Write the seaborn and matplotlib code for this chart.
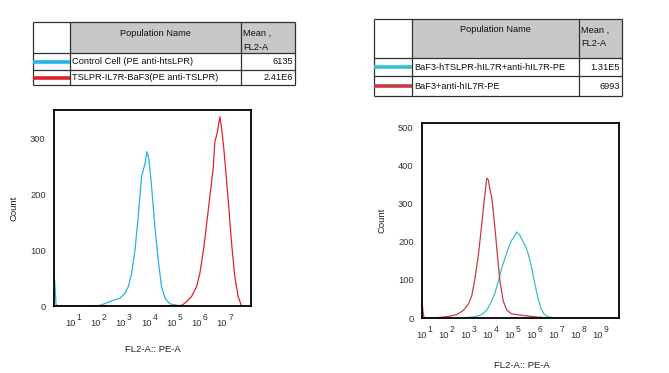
import numpy as np
import pandas as pd
import matplotlib
matplotlib.use("Agg")
import matplotlib.pyplot as plt
import matplotlib.transforms as mtransforms
from matplotlib.ticker import FixedLocator, LogLocator, NullFormatter, AutoMinorLocator
import seaborn as sns

sns.set_style("white")
plt.rcParams['font.family'] = ['Liberation Sans', 'DejaVu Sans']

# ---------------- data ----------------
# Left panel: log10(FL2-A) positions and counts
left_cyan_log = [0.25, 0.28, 0.33, 0.40, 1.5, 2.07, 2.46, 2.86, 3.06, 3.19, 3.32, 3.45, 3.58,
                 3.71, 3.85, 3.92, 4.0, 4.11, 4.24, 4.37, 4.5, 4.64, 4.83, 5.23]
left_cyan_cnt = [50, 45, 3, 0, 0, 1, 8, 14, 23, 35, 59, 100, 160,
                 232, 256, 277, 265, 214, 142, 83, 35, 14, 4, 0]
left_red_log = [0.40, 2.0, 4.0, 5.3, 5.5, 5.69, 5.89, 6.02, 6.18, 6.35, 6.55, 6.61, 6.7,
                6.81, 6.87, 6.97, 7.14, 7.27, 7.4, 7.53, 7.66]
left_red_cnt = [0, 0, 0, 1, 8, 17, 35, 59, 107, 172, 250, 295, 310,
                340, 322, 280, 190, 113, 53, 17, 1]

# Right panel
right_red_log = [0.92, 0.95, 1.0, 1.5, 2.1, 2.49, 2.79, 3.02, 3.17, 3.32, 3.47, 3.62, 3.74,
                 3.85, 3.92, 4.0, 4.08, 4.2, 4.35, 4.45, 4.6, 4.76, 4.98, 5.44, 6.05, 6.65]
right_red_cnt = [37, 20, 0, 0, 4, 9, 20, 37, 58, 105, 165, 243, 311,
                 367, 363, 337, 316, 251, 157, 97, 45, 21, 11, 7, 3, 0]
right_cyan_log = [2.71, 3.32, 3.62, 3.85, 4.08, 4.23, 4.38, 4.53, 4.68, 4.83, 4.98, 5.1,
                  5.21, 5.29, 5.36, 5.47, 5.59, 5.71, 5.86, 6.01, 6.17, 6.32, 6.47, 6.65,
                  6.95, 9.8]
right_cyan_cnt = [0, 3, 9, 20, 45, 67, 97, 131, 157, 183, 204, 213,
                  226, 221, 217, 204, 191, 174, 140, 97, 54, 24, 9, 3,
                  0, 0]

left_names = ["Control Cell (PE anti-htsLPR)", "TSLPR-IL7R-BaF3(PE anti-TSLPR)"]
left_means = ["6135", "2.41E6"]
right_names = ["BaF3-hTSLPR-hIL7R+anti-hIL7R-PE", "BaF3+anti-hIL7R-PE"]
right_means = ["1.31E5", "6993"]
left_decades = [1, 2, 3, 4, 5, 6, 7]
right_decades = [1, 2, 3, 4, 5, 6, 7, 8, 9]
left_yticks = [0, 100, 200, 300]
right_yticks = [0, 100, 200, 300, 400, 500]

# colours
L_CYAN, L_RED = "#22b4e6", "#e0202e"
R_CYAN, R_RED = "#35bfca", "#c83a48"

W, H = 669, 373
fig = plt.figure(figsize=(W / 100, H / 100), dpi=100)

# overlay for tables (pixel coordinates)
ov = fig.add_axes([0, 0, 1, 1])
ov.set_xlim(0, W)
ov.set_ylim(H, 0)
ov.axis("off")
ov.patch.set_visible(False)

FS = 6.7


def draw_table(xs, ys, names, means, colors):
    x0, x1, x2, x3 = xs
    y0, y1, y2, y3 = ys
    gray = "#c8c8c8"
    ov.add_patch(plt.Rectangle((x1, y0), x3 - x1, y1 - y0, facecolor=gray, edgecolor="none"))
    lc = "#303030"
    for y in (y0, y1, y2, y3):
        ov.plot([x0, x3], [y, y], color=lc, lw=0.9, solid_capstyle="butt")
    for x in (x0, x1, x2, x3):
        ov.plot([x, x], [y0, y3], color=lc, lw=0.9, solid_capstyle="butt")
    ov.text((x1 + x2) / 2, y0 + 11, "Population Name", ha="center", va="center", fontsize=FS, color="#111")
    ov.text(x2 + 2, y0 + 11, "Mean ,", ha="left", va="center", fontsize=FS, color="#111")
    ov.text(x2 + 2, y0 + 25, "FL2-A", ha="left", va="center", fontsize=FS, color="#111")
    rows = [(y1 + y2) / 2, (y2 + y3) / 2]
    for yc, nm, mv, c in zip(rows, names, means, colors):
        ov.plot([x0, x1], [yc, yc], color=c, lw=2.6, solid_capstyle="butt")
        ov.text(x1 + 2, yc + 0.5, nm, ha="left", va="center", fontsize=FS, color="#111")
        ov.text(x3 - 2, yc + 0.5, mv, ha="right", va="center", fontsize=FS, color="#111")


draw_table((33, 70, 241, 295), (22, 53, 70, 85), left_names, left_means, [L_CYAN, L_RED])
draw_table((374, 412, 579, 622), (19, 58, 76, 96), right_names, right_means, [R_CYAN, R_RED])


def px_axes(l, r, t, b):
    return fig.add_axes([l / W, 1 - b / H, (r - l) / W, (b - t) / H])


def style_axes(ax, xlog_lim, ylim, decades, yticks, xlab_xy, ylab_xy):
    ax.set_xscale("log")
    ax.set_xlim(10 ** xlog_lim[0], 10 ** xlog_lim[1])
    ax.set_ylim(*ylim)
    ax.xaxis.set_major_locator(FixedLocator([10.0 ** d for d in decades]))
    ax.xaxis.set_major_formatter(NullFormatter())
    ax.xaxis.set_minor_locator(LogLocator(base=10, subs=np.arange(2, 10)))
    ax.xaxis.set_minor_formatter(NullFormatter())
    ax.set_yticks(yticks)
    ax.yaxis.set_minor_locator(AutoMinorLocator(5))
    for s in ax.spines.values():
        s.set_visible(True)
        s.set_color("black")
        s.set_linewidth(1.3)
    ax.tick_params(axis="both", which="major", direction="out", length=4, width=0.9,
                   colors="#222", labelsize=6.7, labelcolor="#333")
    ax.tick_params(axis="both", which="minor", direction="out", length=2, width=0.7, colors="#222")
    ax.tick_params(axis="y", which="major", pad=2)
    # decade labels: "10" with a raised exponent
    trans = ax.get_xaxis_transform()
    base_t = mtransforms.offset_copy(trans, fig=fig, x=2.5, y=-17, units="dots")
    sup_t = mtransforms.offset_copy(trans, fig=fig, x=3.5, y=-12, units="dots")
    for d in decades:
        ax.text(10.0 ** d, 0, "10", transform=base_t, ha="right", va="center",
                fontsize=6.7, color="#333", clip_on=False)
        ax.text(10.0 ** d, 0, str(d), transform=sup_t, ha="left", va="center",
                fontsize=6.2, color="#333", clip_on=False)
    ax.set_xlabel("FL2-A:: PE-A", fontsize=6.8, color="#222")
    ax.xaxis.set_label_coords(*xlab_xy)
    ax.set_ylabel("Count", fontsize=6.8, color="#222")
    ax.yaxis.set_label_coords(*ylab_xy)
    ax.grid(False)


# left panel
axL = px_axes(54, 251, 110, 306)
dfLc = pd.DataFrame({"x": np.power(10.0, left_cyan_log), "y": left_cyan_cnt})
dfLr = pd.DataFrame({"x": np.power(10.0, left_red_log), "y": left_red_cnt})
sns.lineplot(data=dfLc, x="x", y="y", ax=axL, color=L_CYAN, lw=0.9, estimator=None, sort=False)
sns.lineplot(data=dfLr, x="x", y="y", ax=axL, color=L_RED, lw=0.9, estimator=None, sort=False)
style_axes(axL, (0.25, 8.04), (0, 352), left_decades, left_yticks, (0.503, -0.199), (-0.178, 0.5))

# right panel
axR = px_axes(422, 619, 123, 318)
dfRc = pd.DataFrame({"x": np.power(10.0, right_cyan_log), "y": right_cyan_cnt})
dfRr = pd.DataFrame({"x": np.power(10.0, right_red_log), "y": right_red_cnt})
sns.lineplot(data=dfRc, x="x", y="y", ax=axR, color=R_CYAN, lw=0.9, estimator=None, sort=False)
sns.lineplot(data=dfRr, x="x", y="y", ax=axR, color=R_RED, lw=0.9, estimator=None, sort=False)
style_axes(axR, (0.91, 9.86), (0, 512), right_decades, right_yticks, (0.508, -0.2205), (-0.178, 0.503))

fig.savefig("out.png", dpi=100)
